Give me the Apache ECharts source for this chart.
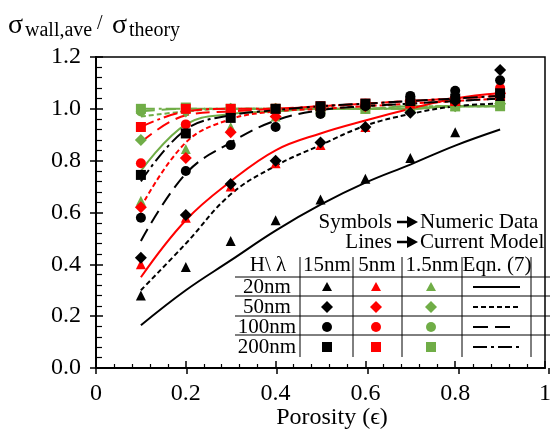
<!DOCTYPE html>
<html><head><meta charset="utf-8">
<script src="https://cdn.jsdelivr.net/npm/echarts@6/dist/echarts.min.js"></script>
<style>html,body{margin:0;padding:0;background:#fff}#c{width:554px;height:431px}</style>
</head><body><div id="c"></div>
<script>
// ---------- data ----------
const porosity = [0.1, 0.2, 0.3, 0.4, 0.5, 0.6, 0.7, 0.8, 0.9];
const xTickLabels = ['0', '0.2', '0.4', '0.6', '0.8', '1'];
const yTickLabels = ['0.0', '0.2', '0.4', '0.6', '0.8', '1.0', '1.2'];
const lambdas = ['15nm', '5nm', '1.5nm'];
const heights = ['20nm', '50nm', '100nm', '200nm'];

// Numeric data (symbols)
const num15_20  = [0.28, 0.39, 0.49, 0.57, 0.65, 0.73, 0.81, 0.91, 1.05];
const num5_20   = [0.40, 0.58, 0.70, 0.79, 0.86, 0.93, 1.04, 1.04, 1.07];
const num1p5_20 = [0.645, 0.845, 0.93, 0.97, 0.99, 1.00, 1.01, 1.01, 1.02];
const num15_50  = [0.425, 0.59, 0.71, 0.80, 0.87, 0.93, 0.985, 1.03, 1.15];
const num5_50   = [0.62, 0.81, 0.91, 0.97, 1.00, 1.01, 1.03, 1.04, 1.06];
const num1p5_50 = [0.88, 0.99, 1.00, 1.00, 1.00, 1.01, 1.01, 1.01, 1.02];
const num15_100 = [0.58, 0.76, 0.86, 0.93, 0.98, 1.01, 1.05, 1.07, 1.11];
const num5_100  = [0.79, 0.94, 0.99, 1.00, 1.01, 1.02, 1.03, 1.04, 1.08];
const num1p5_100= [0.99, 1.00, 1.00, 1.00, 1.00, 1.00, 1.01, 1.01, 1.02];
const num15_200 = [0.745, 0.905, 0.965, 1.00, 1.01, 1.02, 1.03, 1.04, 1.06];
const num5_200  = [0.93, 1.00, 1.00, 1.00, 1.01, 1.02, 1.02, 1.03, 1.05];
const num1p5_200= [1.00, 1.005, 1.00, 1.00, 1.00, 1.00, 1.00, 1.01, 1.01];

// Current model (lines)
const mod15_20  = [0.165, 0.30, 0.415, 0.53, 0.63, 0.715, 0.785, 0.858, 0.92];
const mod5_20   = [0.35, 0.57, 0.72, 0.84, 0.905, 0.955, 1.00, 1.04, 1.06];
const mod1p5_20 = [0.76, 0.94, 0.98, 0.99, 1.00, 1.00, 1.00, 1.01, 1.01];
const mod15_50  = [0.30, 0.48, 0.67, 0.78, 0.86, 0.935, 0.98, 1.01, 1.02];
const mod5_50   = [0.62, 0.87, 0.96, 0.99, 1.00, 1.01, 1.02, 1.03, 1.04];
const mod1p5_50 = [0.97, 0.99, 1.00, 1.00, 1.00, 1.00, 1.01, 1.01, 1.01];
const mod15_100 = [0.49, 0.75, 0.87, 0.955, 0.995, 1.01, 1.02, 1.03, 1.04];
const mod5_100  = [0.87, 0.975, 0.99, 1.00, 1.01, 1.02, 1.03, 1.04, 1.05];
const mod1p5_100= [0.99, 1.00, 1.00, 1.00, 1.00, 1.00, 1.01, 1.01, 1.01];
const mod15_200 = [0.72, 0.92, 0.975, 0.995, 1.01, 1.02, 1.03, 1.04, 1.05];
const mod5_200  = [0.93, 0.99, 1.00, 1.00, 1.01, 1.02, 1.03, 1.04, 1.05];
const mod1p5_200= [1.00, 1.00, 1.00, 1.00, 1.00, 1.00, 1.00, 1.01, 1.01];

// ---------- styles ----------
const BLACK = '#000000', RED = '#ff0000', GREEN = '#70ad47';
const colors = [BLACK, RED, GREEN];
const symbols = ['triangle', 'diamond', 'circle', 'rect'];
const symSizes = [10, 12, 10, 10];
const dashes = ['solid', [5, 3], [14, 7], [14, 4, 3, 4]];
const numeric = [
  [num15_20, num15_50, num15_100, num15_200],
  [num5_20, num5_50, num5_100, num5_200],
  [num1p5_20, num1p5_50, num1p5_100, num1p5_200]
];
const model = [
  [mod15_20, mod15_50, mod15_100, mod15_200],
  [mod5_20, mod5_50, mod5_100, mod5_200],
  [mod1p5_20, mod1p5_50, mod1p5_100, mod1p5_200]
];
const zip = v => porosity.map((x, i) => [x, v[i]]);

const series = [];
for (let c = 2; c >= 0; c--) {
  for (let h = 0; h < 4; h++) {
    series.push({
      type: 'line', name: 'model ' + lambdas[c] + ' ' + heights[h],
      data: zip(model[c][h]), smooth: 0.4, showSymbol: false, silent: true,
      lineStyle: { color: colors[c], width: 2, type: dashes[h] }, z: 2
    });
  }
}
for (let c = 2; c >= 0; c--) {
  for (let h = 0; h < 4; h++) {
    series.push({
      type: 'scatter', name: 'num ' + lambdas[c] + ' ' + heights[h],
      data: zip(numeric[c][h]), symbol: symbols[h], symbolSize: symSizes[h],
      itemStyle: { color: colors[c], opacity: 1 }, z: 3
    });
  }
}

// ---------- legend table graphics ----------
const FONT = '"Liberation Serif", "Times New Roman", serif';
const g = [];
function txt(x, y, s, size, align, extra) {
  g.push(Object.assign({ type: 'text', x: x, y: y, z: 100,
    style: { text: s, font: size + 'px ' + FONT, fill: '#000', align: align || 'center', verticalAlign: 'middle' } }, extra || {}));
}
function ln(x1, y1, x2, y2, w, dash, color) {
  g.push({ type: 'line', z: 100, shape: { x1: x1, y1: y1, x2: x2, y2: y2 },
    style: { stroke: color || '#000', lineWidth: w || 1, lineDash: dash || null } });
}
function arrow(x, y) {
  ln(x, y, x + 12, y, 2.5);
  g.push({ type: 'polygon', z: 100, shape: { points: [[x + 10, y - 6], [x + 21, y], [x + 10, y + 6]] }, style: { fill: '#000' } });
}
// Title
txt(8, 26, 'σ', 28, 'left');
txt(25, 31, 'wall,ave', 20, 'left');
txt(97, 24, '/', 20, 'left');
txt(112, 26, 'σ', 28, 'left');
txt(129, 31, 'theory', 20, 'left');

txt(392, 222, 'Symbols', 21, 'right');
arrow(397, 222);
txt(420, 222, 'Numeric Data', 21, 'left');
txt(392, 242, 'Lines', 21, 'right');
arrow(397, 242);
txt(420, 242, 'Current Model', 21, 'left');

// x axis title
txt(332, 418, 'Porosity (ϵ)', 24, 'center');

const colX = [327, 376, 431];
const rowY = [287, 307, 327, 347];
const headerY = 265;
txt(268, headerY, 'H\\ λ', 21);
txt(327, headerY, lambdas[0], 21);
txt(377, headerY, lambdas[1], 21);
txt(432, headerY, lambdas[2], 21);
txt(497, headerY, 'Eqn. (7)', 21);
[277, 296, 316, 335].forEach(y => ln(235, y, 550, y, 1));
[300, 353, 402, 462, 531].forEach(x => ln(x, 257, x, 357, 1));
heights.forEach((h, i) => txt(267, rowY[i], h, 21));
for (let h = 0; h < 4; h++) {
  for (let c = 0; c < 3; c++) {
    const cx = colX[c], cy = rowY[h], col = colors[c];
    if (h === 0) g.push({ type: 'polygon', z: 100, shape: { points: [[cx, cy - 5], [cx + 5, cy + 4], [cx - 5, cy + 4]] }, style: { fill: col } });
    if (h === 1) g.push({ type: 'polygon', z: 100, shape: { points: [[cx, cy - 6], [cx + 6, cy], [cx, cy + 6], [cx - 6, cy]] }, style: { fill: col } });
    if (h === 2) g.push({ type: 'circle', z: 100, shape: { cx: cx, cy: cy, r: 5 }, style: { fill: col } });
    if (h === 3) g.push({ type: 'rect', z: 100, shape: { x: cx - 5, y: cy - 5, width: 10, height: 10 }, style: { fill: col } });
  }
}
ln(473, rowY[0], 520, rowY[0], 2);
ln(473, rowY[1], 520, rowY[1], 2, [5, 3]);
ln(473, rowY[2], 512, rowY[2], 2, [15, 7]);
ln(473, rowY[3], 520, rowY[3], 2, [14, 4, 3, 4]);

// ---------- chart ----------
const gridBox = { left: 96, right: 5, top: 57, bottom: 63 };
const option = {
  animation: false,
  backgroundColor: '#fff',
  textStyle: { fontFamily: FONT },
  grid: [
    Object.assign({ show: true, borderColor: '#000', borderWidth: 1.5 }, gridBox),
    Object.assign({ show: false }, gridBox)
  ],
  xAxis: [{
    type: 'value', min: 0, max: 1, interval: 0.2, gridIndex: 0,
    axisLine: { show: true, lineStyle: { color: '#000', width: 2 } },
    axisTick: { show: true, inside: true, length: 7, lineStyle: { color: '#000', width: 1.5 } },
    minorTick: { show: true, splitNumber: 5, length: 4, lineStyle: { color: '#000', width: 1.2 } },
    splitLine: { show: false },
    axisLabel: { margin: 14, fontSize: 24, color: '#000', fontFamily: FONT,
      formatter: v => xTickLabels[Math.round(v / 0.2)] }
  }, {
    type: 'value', min: 0, max: 1, interval: 0.2, gridIndex: 1, position: 'bottom',
    axisLine: { show: false }, axisLabel: { show: false }, splitLine: { show: false },
    axisTick: { show: true, inside: false, length: 6, lineStyle: { color: '#000', width: 1.5 } }
  }],
  yAxis: [{
    type: 'value', min: 0, max: 1.2, interval: 0.2, gridIndex: 0,
    axisLine: { show: true, lineStyle: { color: '#000', width: 2 } },
    axisTick: { show: true, inside: true, length: 7, lineStyle: { color: '#000', width: 1.5 } },
    minorTick: { show: true, splitNumber: 5, length: 6, lineStyle: { color: '#000', width: 1.2 } },
    splitLine: { show: false },
    axisLabel: { margin: 15, fontSize: 24, color: '#000', fontFamily: FONT,
      formatter: v => yTickLabels[Math.round(v / 0.2)] }
  }, {
    type: 'value', min: 0, max: 1.2, interval: 0.2, gridIndex: 1, position: 'left',
    axisLine: { show: false }, axisLabel: { show: false }, splitLine: { show: false },
    axisTick: { show: true, inside: false, length: 6, lineStyle: { color: '#000', width: 1.5 } }
  }],
  series: series,
  graphic: g
};
const chart = echarts.init(document.getElementById('c'), null, { renderer: 'canvas' });
chart.setOption(option);
</script>
</body></html>
